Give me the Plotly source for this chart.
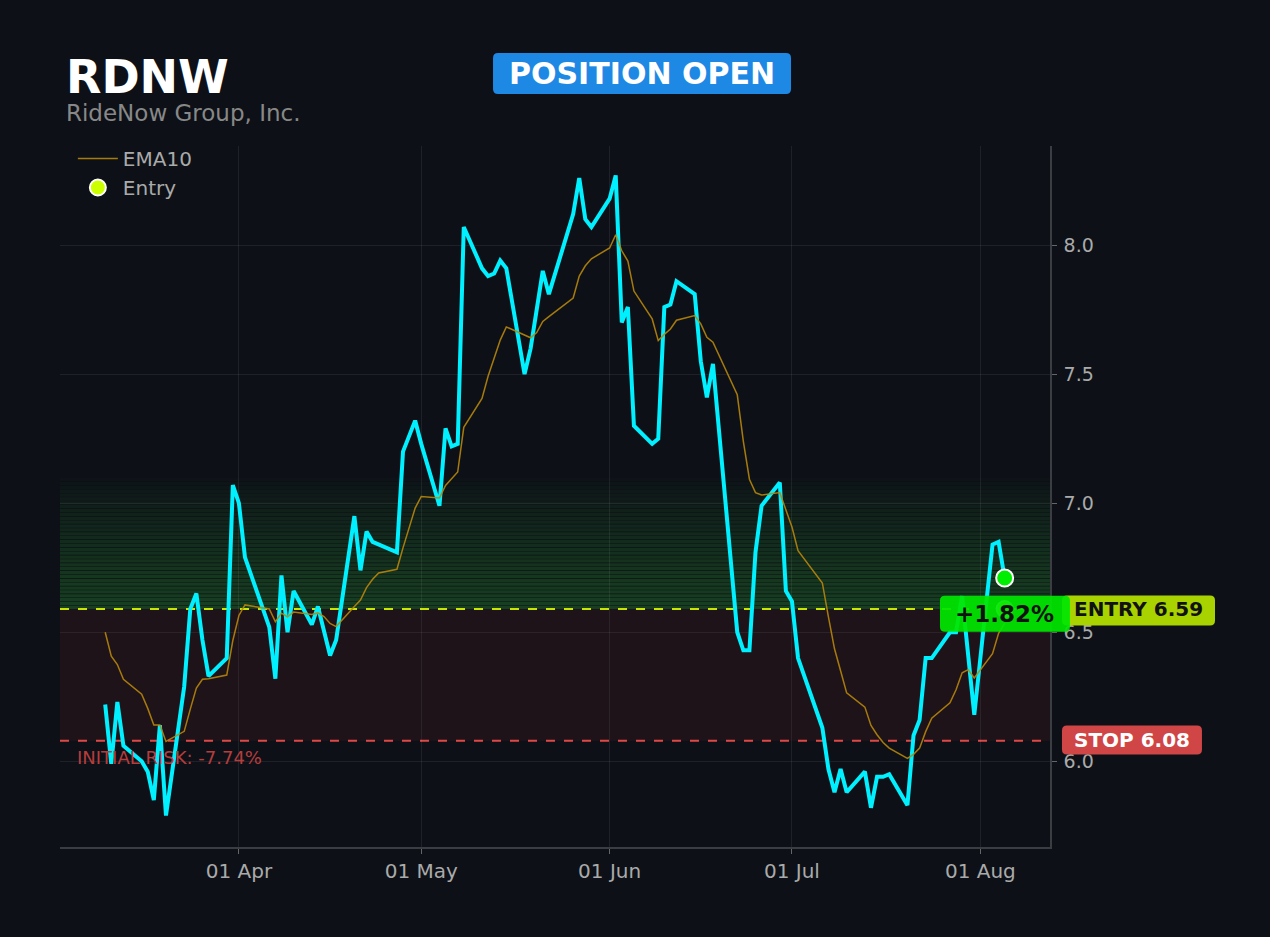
import pandas as pd
import plotly.graph_objects as go

# trading days shown (US market holidays removed)
holidays = ["2026-04-03", "2026-05-25", "2026-06-19", "2026-07-03"]
dates = pd.bdate_range("2026-03-10", "2026-08-05", freq="C", holidays=holidays)

close = [
    6.22, 5.99, 6.23, 6.06, 6.00, 5.96, 5.85, 6.14, 5.79, 6.29,
    6.59, 6.65, 6.47, 6.33, 6.40, 7.07, 7.00, 6.79, 6.52, 6.32,
    6.72, 6.50, 6.66, 6.53, 6.60, 6.50, 6.41, 6.47, 6.95, 6.74,
    6.89, 6.85, 6.84, 6.81, 7.20, 7.26, 7.32, 7.23, 6.99, 7.29,
    7.22, 7.23, 8.07, 7.91, 7.88, 7.89, 7.94, 7.91, 7.50, 7.60,
    7.75, 7.90, 7.81, 8.12, 8.26, 8.10, 8.07, 8.18, 8.27, 7.70,
    7.76, 7.30, 7.23, 7.25, 7.76, 7.77, 7.86, 7.81, 7.55, 7.41,
    7.54, 6.50, 6.43, 6.43, 6.81, 6.99, 7.08, 6.66, 6.62, 6.40,
    6.13, 5.97, 5.88, 5.97, 5.88, 5.96, 5.82, 5.94, 5.94, 5.95,
    5.83, 6.10, 6.16, 6.40, 6.40, 6.50, 6.50, 6.64, 6.41, 6.18,
    6.84, 6.85, 6.71,
]

ema10 = [
    6.500, 6.407, 6.375, 6.318, 6.260, 6.205, 6.141, 6.141, 6.077, 6.116,
    6.202, 6.284, 6.318, 6.320, 6.334, 6.468, 6.565, 6.606, 6.590, 6.541,
    6.574, 6.560, 6.578, 6.569, 6.575, 6.561, 6.534, 6.522, 6.600, 6.625,
    6.673, 6.705, 6.730, 6.744, 6.827, 6.906, 6.981, 7.026, 7.020, 7.069,
    7.097, 7.121, 7.294, 7.406, 7.492, 7.564, 7.632, 7.683, 7.650, 7.641,
    7.661, 7.704, 7.723, 7.795, 7.880, 7.920, 7.947, 7.989, 8.040, 7.978,
    7.938, 7.822, 7.714, 7.630, 7.654, 7.675, 7.709, 7.727, 7.695, 7.643,
    7.624, 7.420, 7.240, 7.093, 7.041, 7.032, 7.041, 6.972, 6.908, 6.816,
    6.691, 6.560, 6.436, 6.351, 6.265, 6.210, 6.139, 6.103, 6.073, 6.051,
    6.011, 6.027, 6.051, 6.115, 6.167, 6.227, 6.277, 6.343, 6.355, 6.323,
    6.417, 6.496, 6.535,
]

ticker = "RDNW"
company = "RideNow Group, Inc."
entry_price = 6.59
stop_price = 6.08
pnl_text = "+1.82%"
risk_text = "INITIAL RISK: -7.74%"

BG = "#0d1117"
FONT = "DejaVu Sans"
Y_RANGE = [5.668, 8.384]
X_RANGE = ["2026-03-02 13:30", "2026-08-12 11:00"]


def ypaper(v):
    return (v - Y_RANGE[0]) / (Y_RANGE[1] - Y_RANGE[0])


def pill(xa, ya, w, h, color, r=5, opacity=1.0):
    # rounded box, size in pixels, centred on a paper-coordinate anchor
    x0, x1, y0, y1 = -w / 2, w / 2, -h / 2, h / 2
    path = (f"M{x0+r},{y0} L{x1-r},{y0} Q{x1},{y0} {x1},{y0+r} "
            f"L{x1},{y1-r} Q{x1},{y1} {x1-r},{y1} L{x0+r},{y1} "
            f"Q{x0},{y1} {x0},{y1-r} L{x0},{y0+r} Q{x0},{y0} {x0+r},{y0} Z")
    return dict(type="path", xref="paper", yref="paper", xsizemode="pixel",
                ysizemode="pixel", xanchor=xa, yanchor=ya, path=path,
                fillcolor=color, opacity=opacity, line=dict(width=0),
                layer="above")


fig = go.Figure()

fig.add_trace(go.Scatter(x=dates, y=close, mode="lines", showlegend=False,
                         line=dict(color="#00f0ff", width=4)))
fig.add_trace(go.Scatter(x=dates, y=ema10, mode="lines", name="EMA10",
                         line=dict(color="rgba(184,134,11,0.9)", width=1.5)))
fig.add_trace(go.Scatter(x=[dates[-1]], y=[entry_price], mode="markers", name="Entry",
                         marker=dict(color="#ccff00", size=16,
                                     line=dict(color="white", width=2))))
fig.add_trace(go.Scatter(x=[dates[-1]], y=[close[-1]], mode="markers", showlegend=False,
                         marker=dict(color="#00ee00", size=17,
                                     line=dict(color="white", width=2))))

shapes = []
# risk zone
shapes.append(dict(type="rect", xref="paper", yref="y", x0=0, x1=1,
                   y0=stop_price, y1=entry_price, fillcolor="rgba(200,40,60,0.09)",
                   line=dict(width=0), layer="below"))
# profit zone fading up to 1R
n_bands = 34
top = entry_price + (entry_price - stop_price)
step = (top - entry_price) / n_bands
for i in range(n_bands):
    t = i / n_bands
    shapes.append(dict(type="rect", xref="paper", yref="y", x0=0, x1=1,
                       y0=entry_price + i * step, y1=entry_price + (i + 0.85) * step,
                       fillcolor=f"rgba(50,190,60,{0.27 * (1 - t) ** 0.8:.3f})",
                       line=dict(width=0), layer="below"))
shapes.append(dict(type="line", xref="paper", yref="y", x0=0, x1=1,
                   y0=entry_price, y1=entry_price, layer="below",
                   line=dict(color="#c8e600", width=2, dash="dash")))
shapes.append(dict(type="line", xref="paper", yref="y", x0=0, x1=1,
                   y0=stop_price, y1=stop_price, layer="below",
                   line=dict(color="#e04848", width=2, dash="dash")))

# badges
shapes.append(pill(0.5879, 1.1035, 298, 41, "#1e88e5"))
shapes.append(pill(1.0894, ypaper(entry_price) - 0.002, 153, 30, "#a8d300"))
shapes.append(pill(1.0828, ypaper(stop_price) + 0.001, 140, 29, "#d04545"))
shapes.append(pill(0.9545, ypaper(6.572), 130, 36, "#00e600", opacity=0.93))

annotations = [
    dict(text=ticker, xref="paper", yref="paper", x=0.004, y=1.098,
         xanchor="left", yanchor="middle", showarrow=False,
         font=dict(family=FONT, size=46, color="white", weight="bold")),
    dict(text=company, xref="paper", yref="paper", x=0.004, y=1.047,
         xanchor="left", yanchor="middle", showarrow=False,
         font=dict(family=FONT, size=23, color="#888888")),
    dict(text="POSITION OPEN", xref="paper", yref="paper", x=0.5879, y=1.1035,
         xanchor="center", yanchor="middle", showarrow=False,
         font=dict(family=FONT, size=30, color="white", weight="bold")),
    dict(text=f"ENTRY {entry_price:.2f}", xref="paper", yref="y", x=1.0894,
         y=entry_price, xanchor="center", yanchor="middle", showarrow=False,
         font=dict(family=FONT, size=20, color="#111111", weight="bold")),
    dict(text=f"STOP {stop_price:.2f}", xref="paper", yref="y", x=1.0828,
         y=stop_price + 0.003, xanchor="center", yanchor="middle", showarrow=False,
         font=dict(family=FONT, size=20, color="white", weight="bold")),
    dict(text=pnl_text, xref="paper", yref="y", x=0.9545, y=6.572,
         xanchor="center", yanchor="middle", showarrow=False,
         font=dict(family=FONT, size=23, color="#111111", weight="bold")),
    dict(text=risk_text, xref="paper", yref="y", x=0.015, y=6.016,
         xanchor="left", yanchor="middle", showarrow=False,
         font=dict(family=FONT, size=18, color="#b83c3c")),
]

fig.update_layout(
    width=1270, height=937,
    paper_bgcolor=BG, plot_bgcolor=BG,
    margin=dict(l=60, r=220, t=146, b=90),
    font=dict(family=FONT, color="#aaaaaa", size=20),
    shapes=shapes, annotations=annotations,
    legend=dict(x=0.013, y=1.01, xanchor="left", yanchor="top", itemwidth=40,
                bgcolor="rgba(0,0,0,0)", font=dict(size=20, color="#aaaaaa")),
    xaxis=dict(range=X_RANGE, type="date", dtick="M1", tickformat="%d %b",
               showgrid=True, gridcolor="rgba(255,255,255,0.07)",
               showline=True, linecolor="#3a3d42", linewidth=1.5,
               ticks="outside", ticklen=5, tickcolor="#666666",
               tickfont=dict(size=20, color="#aaaaaa"), zeroline=False),
    yaxis=dict(range=Y_RANGE, side="right", dtick=0.5, tick0=6.0, tickformat=".1f",
               showgrid=True, gridcolor="rgba(255,255,255,0.07)",
               showline=True, linecolor="#3a3d42", linewidth=1.5,
               ticks="outside", ticklen=5, tickcolor="#666666", ticklabelstandoff=3,
               tickfont=dict(size=19, color="#aaaaaa"), zeroline=False),
)

# page body has a default margin; drop it so the figure fills the window
fig.write_html("out.html", config={"displayModeBar": False},
               post_script="document.body.style.margin='0';")
